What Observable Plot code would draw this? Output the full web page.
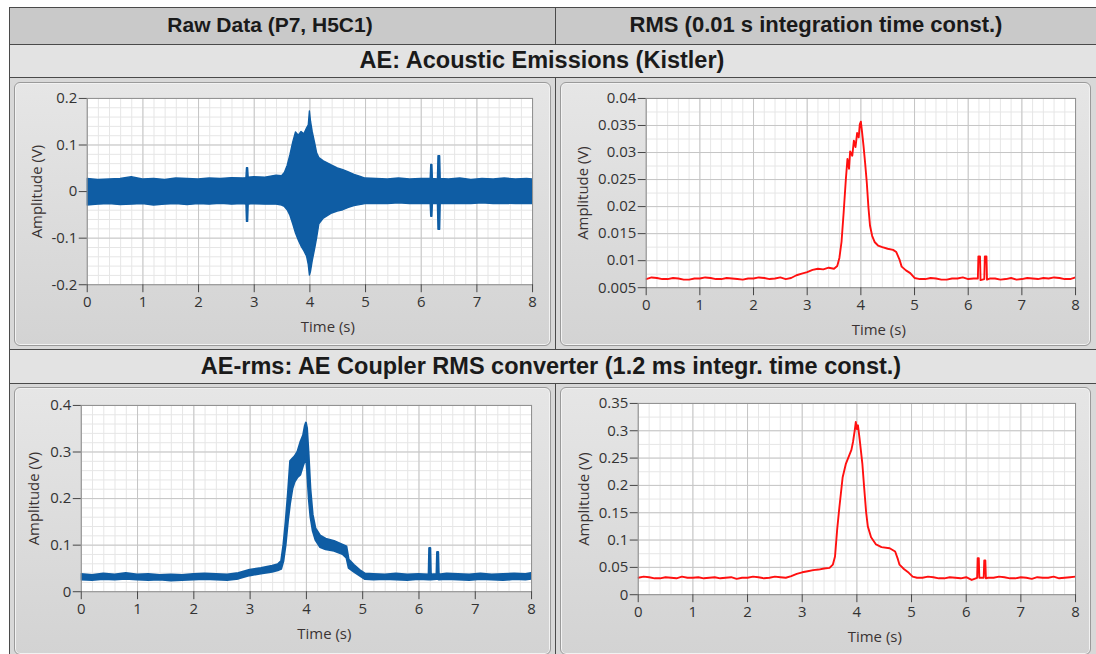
<!DOCTYPE html>
<html>
<head>
<meta charset="utf-8">
<script src="https://cdn.jsdelivr.net/npm/d3@7"></script>
<script src="https://cdn.jsdelivr.net/npm/@observablehq/plot@0.6"></script>
<style>
  html, body { margin: 0; padding: 0; background: #fff; }
  #root { position: relative; width: 1096px; height: 654px; overflow: hidden; background: #fff; font-family: "Liberation Sans", Arial, sans-serif; }
  .box { position: absolute; box-sizing: border-box; border: 1.5px solid #4a4a4a; }
  .t { position: absolute; font-weight: bold; color: #1a1a1a; text-align: center; white-space: nowrap; }
  .panel { position: absolute; box-sizing: border-box; border: 1px solid #9a9a9a; border-radius: 6px;
           background: linear-gradient(#e6e6e6, #d3d3d3); box-shadow: inset 0 0 0 1px #f2f2f2; }
  .panel svg { position: absolute; left: -1px; top: -1px; overflow: visible; }
</style>
</head>
<body>
<div id="root">
  <div class="box" style="left:9px;top:7px;width:547px;height:39px;background:#c9c9c9"></div>
  <div class="box" style="left:555px;top:7px;width:560px;height:39px;background:#c9c9c9"></div>
  <div class="box" style="left:9px;top:44px;width:1106px;height:35px;background:#e3e3e3"></div>
  <div class="box" style="left:9px;top:77px;width:547px;height:274px;background:#d8d8d8"></div>
  <div class="box" style="left:555px;top:77px;width:560px;height:274px;background:#d8d8d8"></div>
  <div class="box" style="left:9px;top:349px;width:1106px;height:36px;background:#e3e3e3"></div>
  <div class="box" style="left:9px;top:383px;width:547px;height:290px;background:#d8d8d8"></div>
  <div class="box" style="left:555px;top:383px;width:560px;height:290px;background:#d8d8d8"></div>

  <div class="t" id="h1" style="left:70px;top:13px;width:400px;font-size:21px"></div>
  <div class="t" id="h2" style="left:616px;top:12px;width:400px;font-size:22px"></div>
  <div class="t" id="h3" style="left:142px;top:47px;width:800px;font-size:23.5px"></div>
  <div class="t" id="h4" style="left:151px;top:353px;width:800px;font-size:23.5px"></div>

  <div class="panel" id="p1" style="left:14px;top:82px;width:537px;height:264px"></div>
  <div class="panel" id="p2" style="left:560px;top:82px;width:531px;height:264px"></div>
  <div class="panel" id="p3" style="left:14px;top:387px;width:537px;height:268px"></div>
  <div class="panel" id="p4" style="left:560px;top:387px;width:531px;height:268px"></div>
</div>
<script>
// ---------- text ----------
const headerTitles = ["Raw Data (P7, H5C1)", "RMS (0.01 s integration time const.)"];
const rowTitles = ["AE: Acoustic Emissions (Kistler)", "AE-rms: AE Coupler RMS converter (1.2 ms integr. time const.)"];
const xLabel = "Time (s)";
const yLabel = "Amplitude (V)";

// ---------- ticks ----------
const xTicks = [0, 1, 2, 3, 4, 5, 6, 7, 8];
const yTicksRaw = [-0.2, -0.1, 0, 0.1, 0.2];
const yTicksRms = [0.005, 0.01, 0.015, 0.02, 0.025, 0.03, 0.035, 0.04];
const yTicksAeRms = [0, 0.1, 0.2, 0.3, 0.4];
const yTicksAeRmsRms = [0, 0.05, 0.1, 0.15, 0.2, 0.25, 0.3, 0.35];

// ---------- Raw AE signal envelope (V) ----------
const rawT  = [0,0.2,0.4,0.6,0.8,1.0,1.2,1.4,1.6,1.8,2.0,2.2,2.4,2.6,2.8,2.86,2.87,2.89,2.9,3.0,3.2,3.4,3.5,3.55,3.6,3.65,3.7,3.75,3.8,3.85,3.9,3.95,3.98,4.0,4.02,4.05,4.1,4.13,4.17,4.25,4.4,4.5,4.6,4.7,4.8,4.9,5.0,5.2,5.4,5.6,5.8,6.0,6.17,6.18,6.2,6.21,6.3,6.31,6.34,6.35,6.5,6.7,6.9,7.1,7.3,7.5,7.7,7.9,8.0];
const rawHi = [0.027,0.025,0.026,0.027,0.031,0.026,0.027,0.025,0.028,0.027,0.026,0.028,0.027,0.029,0.028,0.029,0.05,0.05,0.03,0.031,0.03,0.034,0.033,0.04,0.055,0.078,0.105,0.127,0.12,0.128,0.123,0.136,0.142,0.172,0.15,0.128,0.1,0.082,0.072,0.065,0.056,0.05,0.046,0.041,0.036,0.032,0.028,0.027,0.026,0.028,0.026,0.027,0.027,0.057,0.057,0.027,0.026,0.076,0.076,0.027,0.026,0.028,0.025,0.027,0.026,0.028,0.026,0.027,0.026];
const rawLo = [-0.03,-0.028,-0.027,-0.029,-0.028,-0.027,-0.03,-0.028,-0.027,-0.029,-0.027,-0.028,-0.026,-0.028,-0.027,-0.028,-0.065,-0.065,-0.028,-0.027,-0.028,-0.028,-0.03,-0.033,-0.04,-0.052,-0.07,-0.09,-0.105,-0.118,-0.128,-0.14,-0.158,-0.18,-0.172,-0.15,-0.12,-0.1,-0.07,-0.058,-0.047,-0.043,-0.04,-0.035,-0.031,-0.029,-0.027,-0.026,-0.027,-0.025,-0.027,-0.026,-0.027,-0.054,-0.054,-0.026,-0.027,-0.082,-0.082,-0.026,-0.027,-0.026,-0.027,-0.025,-0.027,-0.026,-0.027,-0.026,-0.027];

// ---------- RMS of raw AE (0.01 s) ----------
const rmsT = [0,0.1,0.2,0.3,0.4,0.5,0.6,0.7,0.8,0.9,1.0,1.1,1.2,1.3,1.4,1.5,1.6,1.7,1.8,1.9,2.0,2.1,2.2,2.3,2.4,2.5,2.6,2.7,2.8,2.9,3.0,3.1,3.2,3.3,3.4,3.5,3.56,3.6,3.64,3.68,3.72,3.75,3.78,3.8,3.84,3.87,3.9,3.93,3.96,3.98,4.0,4.02,4.05,4.08,4.11,4.14,4.17,4.21,4.26,4.32,4.4,4.5,4.6,4.66,4.72,4.76,4.84,4.92,5.0,5.1,5.2,5.3,5.4,5.5,5.6,5.7,5.8,5.9,6.0,6.1,6.18,6.19,6.22,6.23,6.3,6.31,6.34,6.35,6.4,6.5,6.6,6.7,6.8,6.9,7.0,7.1,7.2,7.3,7.4,7.5,7.6,7.7,7.8,7.9,8.0];
const rmsV = [0.0066,0.0069,0.0068,0.0066,0.0066,0.0068,0.0067,0.0065,0.0065,0.0067,0.0067,0.0069,0.0068,0.0066,0.0066,0.0068,0.0067,0.0066,0.0065,0.0067,0.0067,0.0069,0.0068,0.0066,0.0067,0.0069,0.0066,0.0068,0.0073,0.0076,0.0079,0.0083,0.0085,0.0084,0.0087,0.0085,0.009,0.0105,0.0135,0.019,0.025,0.0288,0.027,0.0302,0.0294,0.0322,0.031,0.0336,0.0328,0.0352,0.0357,0.034,0.0312,0.028,0.0245,0.02,0.0165,0.0146,0.0134,0.0128,0.0125,0.0122,0.012,0.0116,0.0102,0.0089,0.0082,0.0077,0.0068,0.0066,0.0066,0.0068,0.0067,0.0065,0.0065,0.0067,0.0067,0.0069,0.0066,0.0067,0.0067,0.0108,0.0108,0.0064,0.0066,0.0108,0.0108,0.0065,0.0067,0.0067,0.0065,0.0066,0.0068,0.0065,0.0066,0.0068,0.0067,0.0066,0.0068,0.0067,0.0069,0.0068,0.0066,0.0066,0.0069];

// ---------- AE-rms coupler output (band, V) ----------
const aeT  = [0,0.2,0.4,0.6,0.8,1.0,1.2,1.4,1.6,1.8,2.0,2.2,2.4,2.6,2.8,3.0,3.2,3.4,3.5,3.56,3.6,3.64,3.68,3.72,3.76,3.8,3.85,3.9,3.95,3.98,4.0,4.02,4.05,4.08,4.12,4.17,4.25,4.35,4.5,4.65,4.72,4.76,4.85,4.95,5.05,5.2,5.4,5.6,5.8,6.0,6.18,6.19,6.21,6.22,6.32,6.33,6.35,6.36,6.5,6.7,6.9,7.1,7.3,7.5,7.7,7.9,8.0];
const aeHi = [0.037,0.035,0.038,0.036,0.039,0.036,0.037,0.035,0.036,0.035,0.037,0.038,0.037,0.036,0.039,0.046,0.05,0.055,0.058,0.065,0.1,0.15,0.21,0.28,0.285,0.29,0.3,0.32,0.335,0.355,0.362,0.35,0.29,0.22,0.165,0.135,0.12,0.113,0.108,0.1,0.096,0.068,0.057,0.046,0.038,0.037,0.036,0.038,0.036,0.037,0.036,0.093,0.093,0.036,0.037,0.084,0.084,0.036,0.038,0.037,0.036,0.038,0.036,0.037,0.038,0.037,0.039];
const aeLo = [0.025,0.024,0.026,0.025,0.027,0.025,0.024,0.025,0.023,0.024,0.025,0.026,0.025,0.024,0.027,0.034,0.038,0.042,0.045,0.048,0.065,0.1,0.15,0.19,0.22,0.235,0.245,0.25,0.27,0.28,0.29,0.26,0.2,0.16,0.13,0.11,0.095,0.09,0.087,0.08,0.072,0.05,0.042,0.034,0.026,0.025,0.026,0.025,0.024,0.026,0.025,0.025,0.025,0.025,0.026,0.026,0.026,0.025,0.026,0.025,0.024,0.026,0.025,0.024,0.026,0.025,0.027];

// ---------- RMS of AE-rms ----------
const arT = [0,0.1,0.2,0.3,0.4,0.5,0.6,0.7,0.8,0.9,1.0,1.1,1.2,1.3,1.4,1.5,1.6,1.7,1.8,1.9,2.0,2.1,2.2,2.3,2.4,2.5,2.6,2.7,2.8,2.9,3.0,3.1,3.2,3.3,3.4,3.5,3.56,3.6,3.64,3.68,3.74,3.8,3.86,3.9,3.93,3.96,3.98,4.0,4.02,4.05,4.1,4.13,4.17,4.2,4.26,4.35,4.45,4.6,4.7,4.75,4.78,4.86,4.95,5.02,5.1,5.2,5.3,5.4,5.5,5.6,5.7,5.8,5.9,6.0,6.1,6.2,6.21,6.23,6.24,6.32,6.33,6.35,6.36,6.4,6.5,6.6,6.7,6.8,6.9,7.0,7.1,7.2,7.3,7.4,7.5,7.6,7.7,7.8,7.9,8.0];
const arV = [0.031,0.033,0.032,0.03,0.03,0.032,0.031,0.03,0.033,0.031,0.031,0.032,0.03,0.031,0.032,0.03,0.031,0.032,0.029,0.031,0.031,0.033,0.032,0.03,0.031,0.033,0.032,0.031,0.034,0.038,0.041,0.043,0.045,0.046,0.048,0.049,0.055,0.07,0.12,0.16,0.215,0.24,0.255,0.265,0.28,0.3,0.316,0.303,0.31,0.285,0.24,0.2,0.15,0.125,0.105,0.092,0.087,0.085,0.079,0.065,0.055,0.047,0.04,0.033,0.031,0.031,0.033,0.032,0.03,0.03,0.032,0.031,0.03,0.032,0.027,0.031,0.067,0.067,0.031,0.031,0.0625,0.0625,0.03,0.031,0.031,0.033,0.032,0.03,0.03,0.032,0.031,0.029,0.032,0.031,0.031,0.033,0.03,0.031,0.032,0.033];

// ---------- minor grid helpers ----------
function range(a, b, step) { const n = Math.round((b - a) / step); return d3.range(n + 1).map(i => +(a + i * step).toFixed(6)); }

const BLUE = "#0f5da4";
const RED = "#ff1010";
const fmt = d => String(d);

function panel({width, height, ml, mr, mt, mb, yDomain, yTicks, yMinor, marks, labelDx}) {
  return Plot.plot({
    width, height,
    marginLeft: ml, marginRight: mr, marginTop: mt, marginBottom: mb,
    style: {background: "transparent", fontFamily: "'Open Sans', 'Noto Sans', sans-serif", fontSize: "15px", color: "#333"},
    x: {domain: [0, 8]},
    y: {domain: yDomain},
    marks: [
      Plot.frame({fill: "white", stroke: null}),
      Plot.gridX(range(0, 8, 0.2), {stroke: "#e6e6e6", strokeOpacity: 1, strokeWidth: 1}),
      Plot.gridY(yMinor, {stroke: "#e6e6e6", strokeOpacity: 1, strokeWidth: 1}),
      Plot.gridX(xTicks, {stroke: "#c6c6c6", strokeOpacity: 1, strokeWidth: 1}),
      Plot.gridY(yTicks, {stroke: "#c6c6c6", strokeOpacity: 1, strokeWidth: 1}),
      ...marks,
      Plot.frame({stroke: "#8f8f8f", strokeWidth: 1}),
      Plot.axisX(xTicks, {tickSize: 8, tickPadding: 4, tickFormat: fmt, label: null, stroke: "#444", fill: "#333", fontSize: 15}),
      Plot.axisY(yTicks, {tickSize: 8, tickPadding: 2, tickFormat: fmt, label: null, stroke: "#444", fill: "#333", fontSize: 15}),
      Plot.text([xLabel], {frameAnchor: "bottom", dy: 43, dx: 18, textAnchor: "middle", lineAnchor: "middle", fontSize: 15, fill: "#3a3333"}),
      Plot.text([yLabel], {frameAnchor: "left", rotate: -90, dx: labelDx, textAnchor: "middle", lineAnchor: "middle", fontSize: 15, fill: "#3a3333"})
    ]
  });
}

document.getElementById("h1").textContent = headerTitles[0];
document.getElementById("h2").textContent = headerTitles[1];
document.getElementById("h3").textContent = rowTitles[0];
document.getElementById("h4").textContent = rowTitles[1];

document.getElementById("p1").appendChild(panel({
  width: 537, height: 264, ml: 73, mr: 17, mt: 16, mb: 61,
  yDomain: [-0.2, 0.2], yTicks: yTicksRaw, yMinor: range(-0.2, 0.2, 0.02), labelDx: -50,
  marks: [
    Plot.areaY(rawT, {x: rawT, y1: rawLo, y2: rawHi, fill: BLUE, stroke: BLUE, strokeWidth: 1.4, clip: true})
  ]
}));

document.getElementById("p2").appendChild(panel({
  width: 531, height: 264, ml: 86, mr: 14, mt: 16, mb: 58,
  yDomain: [0.005, 0.04], yTicks: yTicksRms, yMinor: range(0.005, 0.04, 0.0025), labelDx: -63,
  marks: [
    Plot.line(rmsT, {x: rmsT, y: rmsV, stroke: RED, strokeWidth: 1.9, clip: true})
  ]
}));

document.getElementById("p3").appendChild(panel({
  width: 537, height: 266, ml: 67, mr: 18, mt: 18, mb: 61,
  yDomain: [0, 0.4], yTicks: yTicksAeRms, yMinor: range(0, 0.4, 0.02), labelDx: -47,
  marks: [
    Plot.areaY(aeT, {x: aeT, y1: aeLo, y2: aeHi, fill: BLUE, stroke: BLUE, strokeWidth: 2, clip: true})
  ]
}));

document.getElementById("p4").appendChild(panel({
  width: 531, height: 266, ml: 78, mr: 14, mt: 16, mb: 58,
  yDomain: [0, 0.35], yTicks: yTicksAeRmsRms, yMinor: range(0, 0.35, 0.025), labelDx: -54,
  marks: [
    Plot.line(arT, {x: arT, y: arV, stroke: RED, strokeWidth: 1.9, clip: true})
  ]
}));
</script>
</body>
</html>
